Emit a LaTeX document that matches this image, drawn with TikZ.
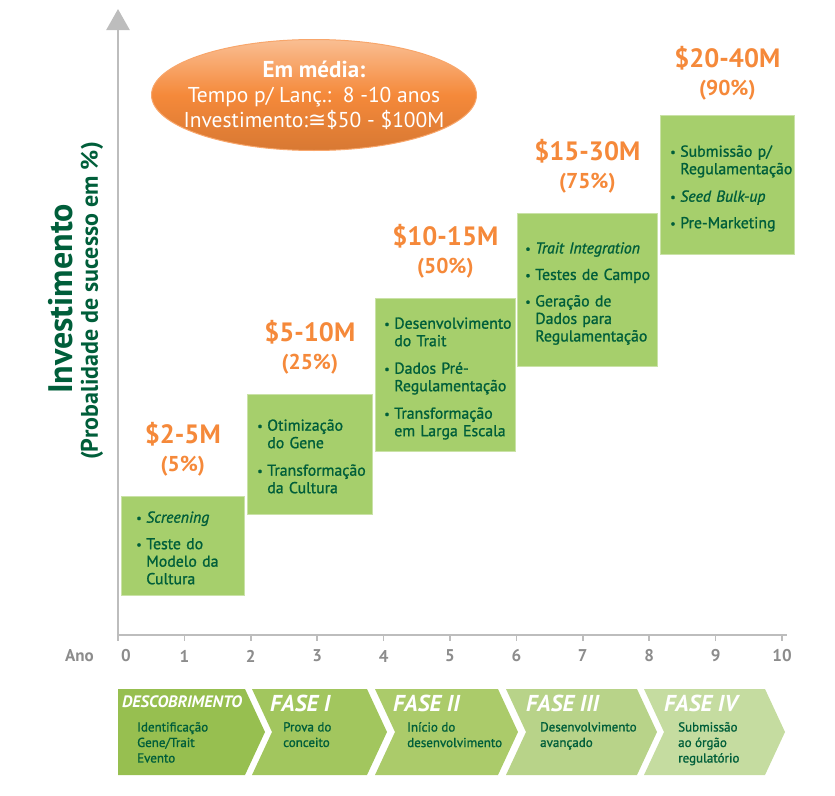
\documentclass[tikz,border=0pt]{standalone}
\usepackage{fontspec}
\setmainfont{PT Sans}
\newfontfamily\symfont{DejaVu Sans}
\newfontfamily\boxfont{PT Sans}[FakeBold=1.2]
\usetikzlibrary{positioning,shapes.geometric,arrows.meta}
\definecolor{leaf}{HTML}{A6CF6C}
\definecolor{forest}{HTML}{005E3A}
\definecolor{tangerine}{HTML}{F5893A}
\definecolor{axisgray}{HTML}{BDBDBD}
\definecolor{labelgray}{HTML}{8C8C8C}
\definecolor{phasezero}{HTML}{97BF50}
\definecolor{phaseone}{HTML}{A2C65E}
\definecolor{phasetwo}{HTML}{ABCB6A}
\definecolor{phasethree}{HTML}{B8D389}
\definecolor{phasefour}{HTML}{C5DCA0}
\newcommand\fsz[2]{\fontsize{#1}{#2}\selectfont}
\newcommand\pctfont{\fsz{21.5}{24}}
\newcommand\bitem[1]{\par\noindent\makebox[10pt][l]{\raisebox{0.5pt}{\fsz{12}{12}\textbullet}}\begin{tabular}[t]{@{}l@{}}#1\end{tabular}\par}
\tikzset{
    stepbox/.style={rectangle, anchor=north west, fill=leaf, draw=leaf!60!white, line width=0.6pt, inner sep=0pt, align=left, text=forest, font=\boxfont\fsz{15.8}{17.5}\setlength{\parskip}{9pt}, execute at begin node={\vskip-6pt}, execute at end node={\par\vskip6pt}},
    cost/.style={align=center, text=tangerine, inner sep=0pt, font=\bfseries\fsz{26.5}{28}},
    avgbubble/.style={ellipse, minimum width=325pt, minimum height=111pt, inner xsep=-40pt, inner ysep=-15pt, top color=tangerine!55!white, bottom color=tangerine!88!black, middle color=tangerine, draw=tangerine!75!white, line width=1pt, text=white, align=center, font=\fsz{21.5}{25}},
    axis/.style={draw=axisgray, line width=2.5pt},
    year/.style={text=labelgray, font=\bfseries\fsz{17}{19}, inner sep=0pt},
    phasetitle/.style={anchor=west, text=white, font=\bfseries\itshape\fsz{23}{26}, inner sep=0pt},
    phasetext/.style={anchor=north west, text=forest, align=left, font=\boxfont\fsz{13}{15.5}, inner sep=0pt},
    ylabel/.style={rotate=90, text=forest, font=\bfseries, inner sep=0pt}
}

\begin{document}
\begin{tikzpicture}[x=1pt, y=-1pt, node distance=20pt]
\useasboundingbox (0,0) rectangle (835,795);

% axes
\coordinate (origin) at (118,635);
\coordinate (ytop) at (118,9);
\coordinate (xend) at (787,635);
\draw[axis, -{Triangle[width=23pt,length=21pt]}] (origin) -- (ytop);
\draw[axis] (origin) -- (xend);
\foreach \yr in {1,...,10} {
    \draw[axisgray, line width=1.5pt] (118+66.4*\yr,635) -- (118+66.4*\yr,641);
    \node[year] (yr\yr) at (118+66.4*\yr,656) {\yr};
}
\draw[axisgray, line width=1.5pt] (origin) -- ++(0,6);
\node[year] (yr0) at (126,656) {0};
\node[year, anchor=east] (ano) at (94,656) {Ano};

\node[ylabel, font=\bfseries\fsz{34}{36}] (invest) at (61,299) {Investimento};
\node[ylabel, font=\bfseries\fsz{24}{26}] (prob) at (92,301) {(Probalidade de sucesso em \%)};

% average bubble
\node[avgbubble] (avg) at (314,95) {{\bfseries\fsz{23}{25}Em média:}\\Tempo p/ Lanç.:\ \ 8 -10 anos\\Investimento:{\symfont ≅}\$50 - \$100M};

% investment steps
\node[stepbox, minimum width=123pt, minimum height=99pt, text width=93pt] (screen) at (121,496) {
    \bitem{\textit{Screening}}
    \bitem{Teste do\\Modelo da\\Cultura}
};
\node[stepbox, minimum width=125pt, minimum height=120pt, text width=105pt] (gene) at (247,394) {
    \bitem{Otimização\\do Gene}
    \bitem{Transformação\\da Cultura}
};
\node[stepbox, minimum width=140pt, minimum height=153pt, text width=122pt] (trait) at (375,298) {
    \bitem{Desenvolvimento\\do Trait}
    \bitem{Dados Pré-\\Regulamentação}
    \bitem{Transformação\\em Larga Escala}
};
\node[stepbox, minimum width=140pt, minimum height=153pt, text width=124pt] (field) at (517,213) {
    \bitem{\textit{Trait Integration}}
    \bitem{Testes de Campo}
    \bitem{Geração de\\Dados para\\Regulamentação}
};
\node[stepbox, minimum width=134pt, minimum height=139pt, text width=114pt] (submit) at (660,115) {
    \bitem{Submissão p/\\Regulamentação}
    \bitem{\textit{Seed Bulk-up}}
    \bitem{Pre-Marketing}
};

\node[cost, above=of screen] (cscreen) {\$2-5M\\{\pctfont(5\%)}};
\node[cost, above=of gene] (cgene) {\$5-10M\\{\pctfont(25\%)}};
\node[cost, above=of trait] (ctrait) {\$10-15M\\{\pctfont(50\%)}};
\node[cost, above=of field] (cfield) {\$15-30M\\{\pctfont(75\%)}};
\node[cost, above=15pt of submit] (csubmit) {\$20-40M\\{\pctfont(90\%)}};

% phases
\fill[phasezero] (118,689) -- (245,689) -- (265,732) -- (245,775) -- (118,775) -- cycle;
\fill[phaseone] (252,689) -- (367,689) -- (387,732) -- (367,775) -- (252,775) -- (272,732) -- cycle;
\fill[phasetwo] (375,689) -- (498,689) -- (518,732) -- (498,775) -- (375,775) -- (395,732) -- cycle;
\fill[phasethree] (506,689) -- (637,689) -- (657,732) -- (637,775) -- (506,775) -- (526,732) -- cycle;
\fill[phasefour] (644,689) -- (765,689) -- (785,732) -- (765,775) -- (644,775) -- (664,732) -- cycle;

\node[phasetitle, font=\bfseries\itshape\fsz{16.5}{18}] (tzero) at (122,702) {DESCOBRIMENTO};
\node[phasetitle] (tone) at (270,703) {FASE I};
\node[phasetitle] (ttwo) at (393,703) {FASE II};
\node[phasetitle] (tthree) at (526,703) {FASE III};
\node[phasetitle] (tfour) at (664,703) {FASE IV};

\node[phasetext] (dzero) at (137,722) {Identificação\\Gene/Trait\\Evento};
\node[phasetext] (done) at (283,722) {Prova do\\conceito};
\node[phasetext] (dtwo) at (407,722) {Início do\\desenvolvimento};
\node[phasetext] (dthree) at (540,722) {Desenvolvimento\\avançado};
\node[phasetext] (dfour) at (678,722) {Submissão\\ao órgão\\regulatório};

\end{tikzpicture}
\end{document}
